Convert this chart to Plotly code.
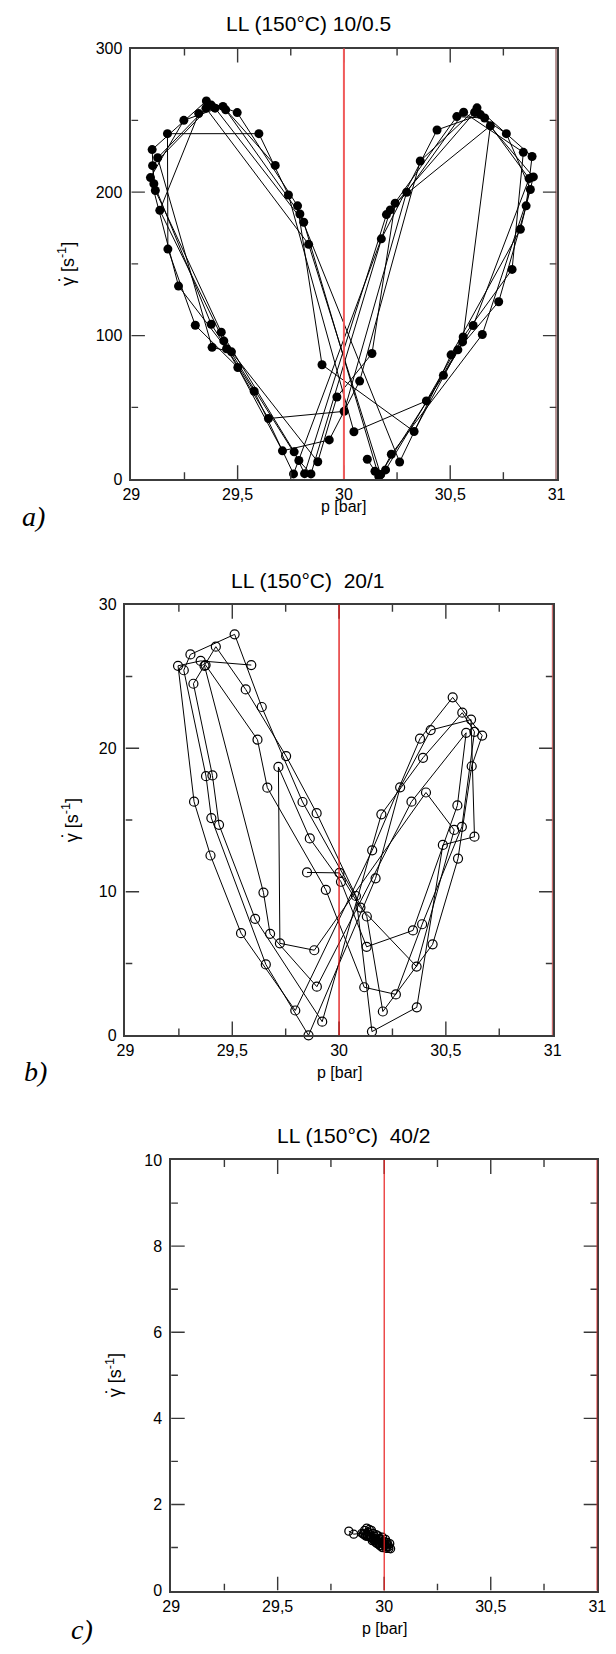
import plotly.graph_objects as go

# ---------------- data ----------------
# panel a) LL (150°C) 10/0.5  -- trajectory order
p_a = [29.677, 29.431, 29.247, 29.090, 29.222, 29.448, 29.645, 30.001, 30.295, 30.563, 30.844, 30.791, 30.561, 30.388, 30.047,
       29.739, 29.600, 29.170, 29.172, 29.301, 29.501, 29.711, 29.931, 30.074, 30.359, 30.626, 30.885, 30.857, 30.728, 30.536, 30.330,
       29.897, 29.782, 29.498, 29.353, 29.098, 29.106, 29.376, 29.578, 29.763, 30.176, 30.438, 30.642, 30.891, 30.830, 30.504, 30.262,
       29.793, 29.444, 29.376, 29.100, 29.113, 29.423, 29.766, 29.815, 30.200, 30.531, 30.662, 30.871, 30.608, 30.468, 30.164,
       29.811, 29.394, 29.317, 29.134, 29.435, 29.788, 29.845, 30.218, 30.615, 30.764, 30.877, 30.651, 30.223, 30.173,
       29.834, 29.351, 29.124, 29.380, 29.471, 29.877, 29.967, 30.132, 30.241, 30.689, 30.558, 30.196, 30.146, 30.110]
g_a = [218.6, 259.7, 250.0, 210.1, 134.5, 90.8, 42.2, 47.2, 199.9, 255.6, 227.7, 146.1, 99.1, 54.5, 33.0,
       198.0, 240.7, 240.7, 160.3, 107.2, 77.8, 19.7, 27.3, 68.3, 221.7, 258.7, 224.8, 190.4, 123.6, 90.1, 33.2,
       79.7, 190.4, 255.4, 263.5, 229.6, 205.8, 107.9, 61.2, 3.6, 167.4, 243.3, 254.0, 210.6, 174.1, 86.6, 11.9,
       184.7, 257.3, 260.6, 218.4, 201.1, 102.4, 19.0, 3.8, 184.3, 252.6, 251.6, 209.4, 107.0, 72.3, 1.9,
       179.0, 258.5, 254.7, 187.3, 96.3, 13.0, 3.6, 187.6, 255.6, 240.7, 201.8, 100.8, 17.3, 3.1,
       163.6, 258.5, 223.9, 91.8, 88.7, 12.1, 57.2, 87.5, 192.3, 246.2, 95.6, 6.4, 5.5, 13.8]

# panel b) LL (150°C) 20/1
p_b = [29.589, 29.352, 29.246, 29.321, 29.398, 29.541, 29.795, 30.155, 30.379, 30.532, 30.670, 30.621, 30.557, 30.438, 30.205, 30.130, 29.829,
       29.638, 29.511, 29.304, 29.273, 29.377, 29.402, 29.657, 29.857, 30.171, 30.286, 30.429, 30.618, 30.634, 30.486, 30.364, 30.154, 30.079, 29.895,
       29.752, 29.563, 29.423, 29.318, 29.407, 29.438, 29.607, 29.921, 30.198, 30.393, 30.577, 30.634, 30.575, 30.389, 30.266, 30.118, 29.938, 29.664,
       29.618, 29.375, 29.370, 29.646, 29.677, 29.896, 30.339, 30.595, 30.554, 30.346, 30.129, 30.009, 29.863,
       29.716, 29.723, 29.884, 30.407, 30.539, 30.363, 30.100, 30.002, 29.850]
g_b = [25.80, 26.09, 25.75, 16.28, 12.53, 7.12, 1.73, 12.89, 20.67, 23.55, 20.89, 18.75, 12.32, 6.34, 1.66, 8.28, 16.26,
       22.88, 27.94, 26.54, 25.44, 18.06, 15.14, 4.94, 0.00, 10.94, 17.28, 21.27, 22.00, 13.84, 13.27, 1.95, 0.26, 9.71, 15.48,
       19.46, 24.10, 27.08, 24.50, 18.11, 14.67, 8.12, 0.95, 15.40, 19.34, 22.48, 21.15, 14.53, 7.74, 2.85, 3.35, 10.14, 17.26,
       20.60, 25.80, 25.75, 9.95, 7.07, 3.39, 16.28, 21.08, 16.02, 7.31, 6.17, 10.70, 13.72,
       18.70, 6.41, 5.93, 16.92, 14.31, 4.79, 8.90, 11.32, 11.35]

# panel c) LL (150°C) 40/2
p_c = [29.834, 29.857, 29.895, 29.902, 29.908, 29.912, 29.918, 29.921, 29.925, 29.930, 29.905, 29.915, 29.928,
       29.935, 29.940, 29.944, 29.948, 29.952, 29.955, 29.958, 29.962, 29.965, 29.968, 29.972, 29.975, 29.978, 29.982,
       29.985, 29.988, 29.992, 29.995, 29.998, 30.002, 30.006, 30.010, 30.014, 30.018, 30.022, 30.026, 30.030,
       29.960, 29.970, 29.980, 29.990, 30.000, 30.010, 30.020, 29.950, 29.940,
       29.932, 29.950, 29.970, 29.990, 30.012]
g_c = [1.38, 1.31, 1.33, 1.32, 1.40, 1.28, 1.45, 1.27, 1.36, 1.42, 1.30, 1.26, 1.30,
       1.24, 1.40, 1.16, 1.33, 1.16, 1.26, 1.20, 1.30, 1.10, 1.15, 1.27, 1.10, 1.21, 1.05,
       1.18, 1.12, 1.24, 1.00, 1.14, 1.08, 1.19, 1.02, 1.12, 1.06, 0.98, 1.09, 0.97,
       1.12, 1.08, 1.04, 1.00, 1.06, 0.98, 1.02, 1.18, 1.22,
       1.26, 1.22, 1.17, 1.10, 1.08]

x_range = [29, 31]
x_major = [29.5, 30, 30.5]
x_minor = [29.25, 29.75, 30.25, 30.75]
y_ranges = [[0, 300], [0, 30], [0, 10]]
y_major = [[100, 200], [10, 20], [2, 4, 6, 8]]
y_minor = [[50, 150, 250], [5, 15, 25], [1, 3, 5, 7, 9]]
y_dticks = [100, 10, 2]
titles = ["LL (150°C) 10/0.5", "LL (150°C)\u00a0 20/1", "LL (150°C)\u00a0 40/2"]
panel_labels = ["a)", "b)", "c)"]
x_title = "p [bar]"
y_title = "\u03b3 [s<sup>-1</sup>]"
ref_lines = [30, 31]

# ---------------- layout geometry (pixels) ----------------
W, H = 616, 1654
boxes = [(126, 564, 41, 476), (120, 560, 603, 1038), (167, 606, 1164, 1599)]
title_pos = [(309, 16), (308, 578), (355, 1139)]
xtitle_off = [28, 38, 38]
ytitle_x = [60, 63, 108]
dot_dx, dot_dy = -8, 16
label_pos = [(25, 514), (27, 1075), (75, 1638)]
red_cols = [("#f05a5a", "#6e2a2a"), ("#e01010", "#b01c1c"), ("#e82020", "#e02020")]
red_w = [(2, 2), (1.3, 1.5), (1.2, 1.5)]
MAJ, MIN = 14, 7
tick_line = dict(color="#383838", width=1.4)

fig = go.Figure()
data = [(p_a, g_a), (p_b, g_b), (p_c, g_c)]
markers = [dict(symbol="circle", size=9, color="black"),
           dict(symbol="circle-open", size=9, color="black", line=dict(width=1.2, color="black")),
           dict(symbol="circle-open", size=8, color="black", line=dict(width=1.3, color="black"))]

def fx(px):
    return px / W

def fy(py):
    return 1 - py / H

layout = dict(width=W, height=H, margin=dict(l=0, r=0, t=0, b=0, pad=0), autosize=False,
              paper_bgcolor="white", plot_bgcolor="white", showlegend=False, separators=",.",
              font=dict(family="Liberation Sans, Arial, sans-serif", color="black"))
annotations = []
shapes = []
axcol = "#3c3c3c"
for i, (x0, x1, y0, y1) in enumerate(boxes):
    sx = "" if i == 0 else str(i + 1)
    xa = "x" if i == 0 else f"x{i+1}"
    ya = "y" if i == 0 else f"y{i+1}"
    xlo, xhi = x_range
    ylo, yhi = y_ranges[i]
    ux = (xhi - xlo) / (x1 - x0)
    uy = (yhi - ylo) / (y1 - y0)
    # inside ticks on all four sides, drawn as short line segments (pixel lengths -> data units)
    for vals, ln in ((x_major, MAJ), (x_minor, MIN)):
        for v in vals:
            for yb, sgn in ((ylo, 1), (yhi, -1)):
                shapes.append(dict(type="line", xref=xa, yref=ya, x0=v, x1=v, y0=yb, y1=yb + sgn * ln * uy,
                                   line=tick_line, layer="above"))
    for vals, ln in ((y_major[i], MAJ), (y_minor[i], MIN)):
        for v in vals:
            for xb, sgn in ((xlo, 1), (xhi, -1)):
                shapes.append(dict(type="line", xref=xa, yref=ya, x0=xb, x1=xb + sgn * ln * ux, y0=v, y1=v,
                                   line=tick_line, layer="above"))
    px, py = data[i]
    fig.add_trace(go.Scatter(x=px, y=py, mode="lines+markers", xaxis=xa, yaxis=ya,
                             line=dict(color="black", width=1), marker=markers[i],
                             cliponaxis=False, showlegend=False, hoverinfo="skip"))

    layout[f"xaxis{sx}"] = dict(
        domain=[fx(x0), fx(x1)], anchor=f"y{sx}", range=x_range,
        tickmode="linear", tick0=x_range[0], dtick=0.5, ticks="",
        showline=True, linecolor=axcol, linewidth=1.5, mirror=True,
        showgrid=False, zeroline=False, tickfont=dict(size=16),
    )
    layout[f"yaxis{sx}"] = dict(
        domain=[fy(y1), fy(y0)], anchor=f"x{sx}", range=y_ranges[i],
        tickmode="linear", tick0=0, dtick=y_dticks[i], ticks="",
        showline=True, linecolor=axcol, linewidth=1.5, mirror=True,
        showgrid=False, zeroline=False, tickfont=dict(size=16), ticklabelstandoff=4,
    )
    for j, rv in enumerate(ref_lines):
        shapes.append(dict(type="line", xref=xa, yref=f"{ya} domain", x0=rv, x1=rv, y0=0, y1=1,
                           line=dict(color=red_cols[i][j], width=red_w[i][j]), layer="above"))
    tx, ty = title_pos[i]
    annotations.append(dict(text=titles[i], x=fx(tx), y=fy(ty), xref="paper", yref="paper",
                            xanchor="center", yanchor="middle", showarrow=False, font=dict(size=21)))
    annotations.append(dict(text=x_title, x=fx((x0 + x1) / 2), y=fy(y1 + xtitle_off[i]), xref="paper", yref="paper",
                            xanchor="center", yanchor="middle", showarrow=False, font=dict(size=16)))
    yc = (y0 + y1) / 2
    annotations.append(dict(text=y_title, x=fx(ytitle_x[i]), y=fy(yc), xref="paper", yref="paper",
                            xanchor="center", yanchor="middle", showarrow=False, textangle=-90, font=dict(size=18)))
    annotations.append(dict(text="\u2022", x=fx(ytitle_x[i] + dot_dx), y=fy(yc + dot_dy), xref="paper", yref="paper",
                            xanchor="center", yanchor="middle", showarrow=False, font=dict(size=7)))
    lx, ly = label_pos[i]
    annotations.append(dict(text=f"<i>{panel_labels[i]}</i>", x=fx(lx), y=fy(ly), xref="paper", yref="paper",
                            xanchor="center", yanchor="middle", showarrow=False,
                            font=dict(size=28, family="Liberation Serif, Times New Roman, serif")))

layout["annotations"] = annotations
layout["shapes"] = shapes
fig.update_layout(**layout)
fig.write_html("out.html", config={"displayModeBar": False},
               post_script="document.body.style.margin='0';document.body.style.padding='0';")
